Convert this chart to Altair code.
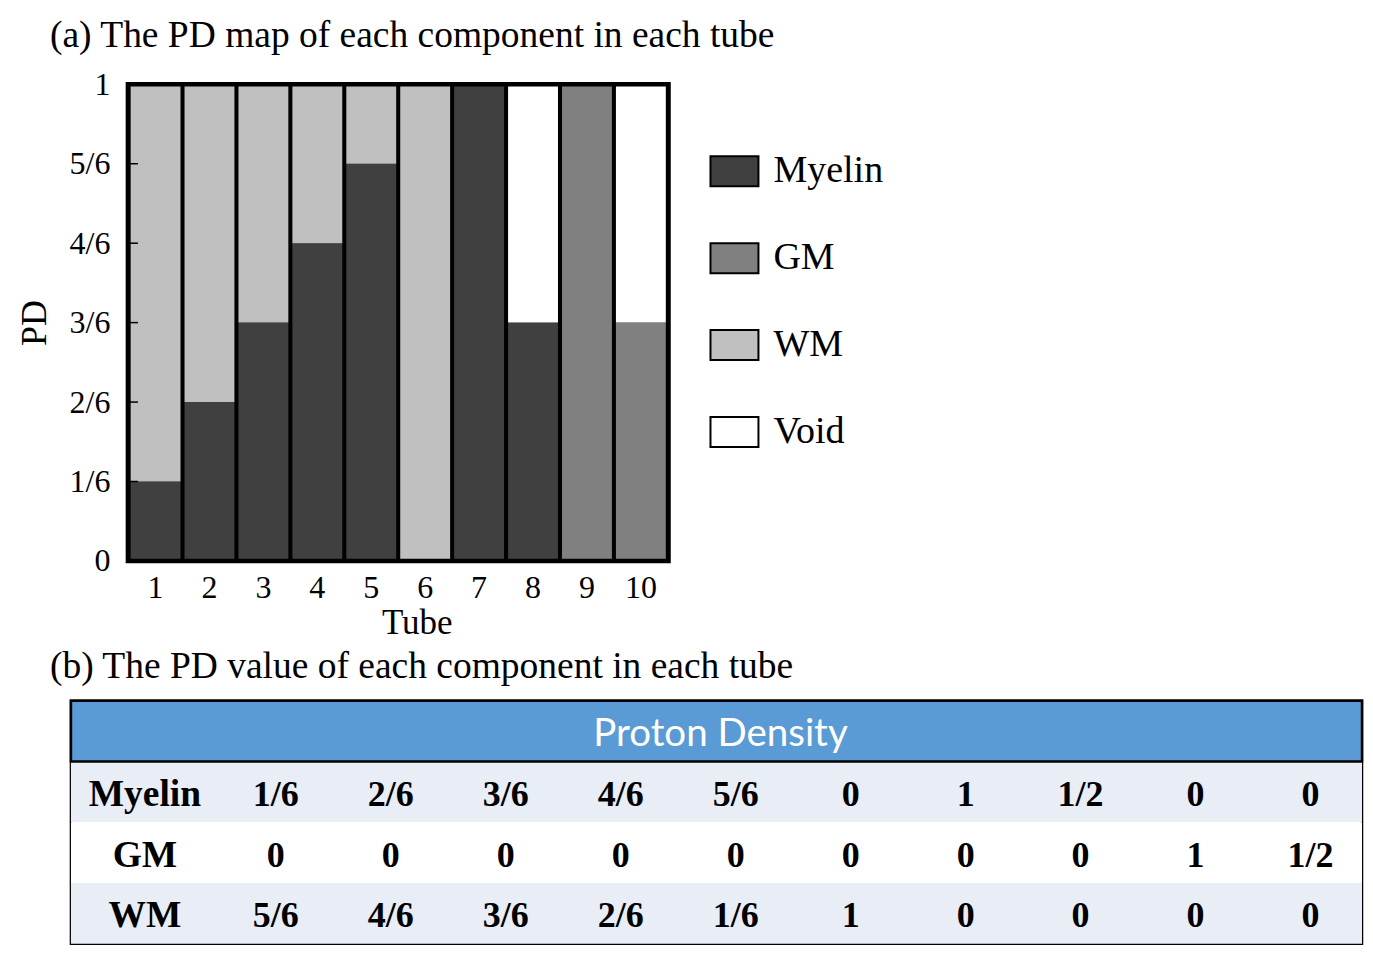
import altair as alt
import pandas as pd

# ---------------- data ----------------
tubes = ["1", "2", "3", "4", "5", "6", "7", "8", "9", "10"]
components = ["Myelin", "GM", "WM", "Void"]
component_colors = ["#404040", "#808080", "#C0C0C0", "#FFFFFF"]

myelin = [1/6, 2/6, 3/6, 4/6, 5/6, 0, 1, 1/2, 0, 0]
gm = [0, 0, 0, 0, 0, 0, 0, 0, 1, 1/2]
wm = [5/6, 4/6, 3/6, 2/6, 1/6, 1, 0, 0, 0, 0]
void = [0, 0, 0, 0, 0, 0, 0, 1/2, 0, 1/2]

y_tick_values = [0, 1/6, 2/6, 3/6, 4/6, 5/6, 1]
y_tick_labels = ["0", "1/6", "2/6", "3/6", "4/6", "5/6", "1"]

table_rows = ["Myelin", "GM", "WM"]
myelin_txt = ["1/6", "2/6", "3/6", "4/6", "5/6", "0", "1", "1/2", "0", "0"]
gm_txt = ["0", "0", "0", "0", "0", "0", "0", "0", "1", "1/2"]
wm_txt = ["5/6", "4/6", "3/6", "2/6", "1/6", "1", "0", "0", "0", "0"]

title_a = "(a) The PD map of each component in each tube"
title_b = "(b) The PD value of each component in each tube"
header_text = "Proton Density"

SERIF = "Liberation Serif"
W = 1292          # shared width of both panels
PH = 477          # bar plot height
TH = 243          # table height
BAR_L, BAR_R = 57, 598  # bar-plot frame inside the top panel

# ---------------- top: stacked bars ----------------
series = {"Myelin": myelin, "GM": gm, "WM": wm, "Void": void}
rows = []
for ci, c in enumerate(components):
    for t, v in zip(tubes, series[c]):
        rows.append({"tube": t, "component": c, "value": v, "order": ci})
bars_df = pd.DataFrame(rows)

label_expr = "[" + ",".join("'%s'" % s for s in y_tick_labels) + "][round(datum.value*6)]"

yscale = alt.Scale(domain=[0, 1], nice=False, zero=True)
yaxis = alt.Axis(title="PD", values=y_tick_values, labelExpr=label_expr, offset=-BAR_L,
                 domain=False, ticks=False, grid=False,
                 labelFont=SERIF, labelFontSize=32, labelColor="black", labelPadding=18,
                 titleFont=SERIF, titleFontSize=36, titleFontWeight="normal",
                 titleColor="black", titlePadding=16)

frame_bg = alt.Chart(pd.DataFrame({"k": [0]})).mark_rect(fill="black").encode(
    x=alt.value(BAR_L), x2=alt.value(BAR_R), y=alt.value(0), y2=alt.value(PH)
)
frame_line = alt.Chart(pd.DataFrame({"k": [0]})).mark_rect(
    fill=None, fillOpacity=0, stroke="black", strokeWidth=4.5
).encode(x=alt.value(BAR_L), x2=alt.value(BAR_R), y=alt.value(0), y2=alt.value(PH))

bars = alt.Chart(bars_df).mark_bar(opacity=1).encode(
    x=alt.X("tube:N", sort=tubes,
            scale=alt.Scale(domain=tubes, range=[BAR_L, BAR_R], paddingInner=0.075, paddingOuter=0.05),
            axis=alt.Axis(title="Tube", labelAngle=0, domain=False, ticks=False, grid=False,
                          labelFont=SERIF, labelFontSize=32, labelColor="black", labelPadding=12,
                          titleFont=SERIF, titleFontSize=35, titleFontWeight="normal",
                          titleColor="black", titlePadding=2, titleX=346)),
    y=alt.Y("value:Q", stack="zero", scale=yscale, axis=yaxis),
    color=alt.Color("component:N",
                    scale=alt.Scale(domain=components, range=component_colors),
                    legend=alt.Legend(title=None, orient="none", legendX=639, legendY=62,
                                      symbolType="M-1,-0.625H1V0.625H-1Z", symbolSize=2304,
                                      symbolStrokeColor="black", symbolStrokeWidth=2,
                                      symbolOpacity=1, labelFont=SERIF, labelFontSize=38,
                                      labelColor="black", labelOffset=14, rowPadding=43)),
    order=alt.Order("order:Q", sort="ascending"),
)

# short inward tick marks on the left frame
ticks_df = pd.DataFrame({"value": y_tick_values[1:-1]})
inner_ticks = alt.Chart(ticks_df).mark_rule(color="black", strokeWidth=1.5).encode(
    y=alt.Y("value:Q", scale=yscale, axis=yaxis),
    x=alt.value(BAR_L), x2=alt.value(BAR_L + 10),
)

top = alt.layer(frame_bg, bars, inner_ticks, frame_line).properties(
    width=W, height=PH,
    title=alt.Title(title_a, anchor="start", frame="group", dx=-21, offset=14,
                    font=SERIF, fontSize=37.5, fontWeight="normal", color="black"),
)

# ---------------- bottom: table ----------------
row_order = ["header"] + table_rows
stripe_df = pd.DataFrame({
    "row": row_order,
    "fill": ["#5B9BD5", "#E9EDF6", "#FFFFFF", "#E9EDF6"],
})
txt = {"Myelin": myelin_txt, "GM": gm_txt, "WM": wm_txt}
cells = []
for r in table_rows:
    for t, s in zip(tubes, txt[r]):
        cells.append({"row": r, "tube": t, "txt": s})
cells_df = pd.DataFrame(cells)
labels_df = pd.DataFrame({"row": table_rows})
header_df = pd.DataFrame({"row": ["header"], "txt": [header_text]})

yrow = alt.Y("row:N", sort=row_order, scale=alt.Scale(domain=row_order, paddingInner=0, paddingOuter=0), axis=None)

stripes = alt.Chart(stripe_df).mark_rect().encode(
    y=yrow, x=alt.value(0), x2=alt.value(W), fill=alt.Fill("fill:N", scale=None)
)
header_line = alt.Chart(header_df).mark_rect(fill=None, fillOpacity=0, stroke="black", strokeWidth=2.5).encode(
    y=yrow, x=alt.value(0), x2=alt.value(W)
)
header_txt = alt.Chart(header_df).mark_text(
    font="Lato", fontSize=38.5, color="white", align="center", baseline="middle", dy=3
).encode(y=yrow, x=alt.value(650), text="txt:N")
row_labels = alt.Chart(labels_df).mark_text(
    font=SERIF, fontSize=37.5, fontWeight="bold", color="black", align="center", baseline="middle", dy=3
).encode(y=yrow, x=alt.value(74), text="row:N")
values = alt.Chart(cells_df).mark_text(
    font=SERIF, fontSize=36, fontWeight="bold", color="black", align="center", baseline="middle", dy=3
).encode(
    y=yrow,
    x=alt.X("tube:N", sort=tubes, scale=alt.Scale(domain=tubes, range=[147.5, 1298], paddingInner=0, paddingOuter=0), axis=None),
    text="txt:N",
)

table = alt.layer(stripes, header_line, header_txt, row_labels, values).properties(
    width=W, height=TH,
    view=alt.ViewBackground(stroke="black", strokeWidth=2.5),
    title=alt.Title(title_b, anchor="start", frame="group", dx=-21, offset=14,
                    font=SERIF, fontSize=37.5, fontWeight="normal", color="black"),
)

chart = alt.vconcat(top, table, spacing=6).properties(
    padding={"left": 8, "top": 8, "right": 0, "bottom": 0},
    background="white",
).configure_view(stroke=None)

chart.save("out.html", embed_options={"renderer": "svg", "actions": False})
